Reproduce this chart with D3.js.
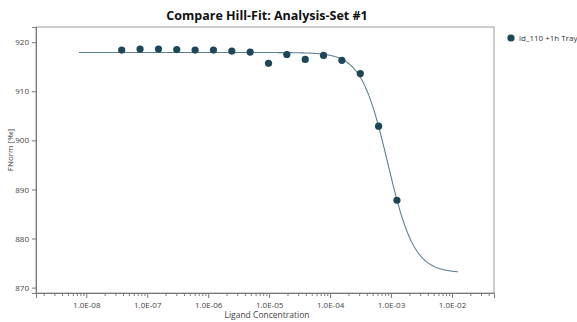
<!DOCTYPE html>
<html>
<head>
<meta charset="utf-8">
<script src="https://cdn.jsdelivr.net/npm/d3@7"></script>
<style>
  body { margin: 0; background: #fff; }
  text { font-family: "Open Sans", "Noto Sans", sans-serif; }
</style>
</head>
<body>
<svg width="577" height="322"></svg>
<script>
// концентрации лиганда (серия разведений 1:2)
const concentrations = [3.81e-8, 7.63e-8, 1.53e-7, 3.05e-7, 6.10e-7, 1.22e-6, 2.44e-6, 4.88e-6,
                        9.77e-6, 1.95e-5, 3.91e-5, 7.81e-5, 1.56e-4, 3.13e-4, 6.25e-4, 1.25e-3];
// измеренные FNorm
const fnorm = [918.4, 918.6, 918.6, 918.5, 918.4, 918.4, 918.2, 918.0,
               915.7, 917.5, 916.5, 917.3, 916.3, 913.6, 902.9, 887.8];
// параметры Hill-фита
const hillTop = 917.9, hillBottom = 873.0, hillEC50 = 8.8e-4, hillN = 2.0;
const fitRange = [7.6e-9, 1.25e-2];
const yTicks = [870, 880, 890, 900, 910, 920];
const xMajor = [1e-8, 1e-7, 1e-6, 1e-5, 1e-4, 1e-3, 1e-2];
const seriesName = "id_110 +1h Tray";

const svg = d3.select("svg");
const plotLeft = 36, plotRight = 494, plotTop = 27, plotBottom = 293;

const x = d3.scaleLog().domain([1.496e-9, 4.89e-2]).range([plotLeft, plotRight]);
const y = d3.scaleLinear().domain([868.9, 923.1]).range([plotBottom, plotTop]);

// рамка
svg.append("rect")
    .attr("x", plotLeft).attr("y", plotTop)
    .attr("width", plotRight - plotLeft).attr("height", plotBottom - plotTop)
    .attr("fill", "none").attr("stroke", "#9a9a9a").attr("stroke-width", 1);

// ось Y
svg.append("g")
    .attr("transform", `translate(${plotLeft},0)`)
    .call(d3.axisLeft(y).tickValues(yTicks).tickSize(4).tickPadding(3));

// ось X: мелкие деления
const minor = [];
for (let e = -9; e <= -2; e++) {
    for (let k = 2; k <= 9; k++) {
        const v = k * Math.pow(10, e);
        if (v > x.domain()[0] && v < x.domain()[1]) minor.push(v);
    }
}
svg.append("g")
    .attr("transform", `translate(0,${plotBottom})`)
    .call(d3.axisBottom(x).tickValues(minor).tickSize(3).tickFormat(""))
    .call(g => g.select(".domain").remove());
svg.append("g")
    .attr("transform", `translate(0,${plotBottom})`)
    .call(d3.axisBottom(x).tickValues(xMajor).tickSize(5).tickPadding(4)
        .tickFormat(d => "1.0E-" + String(Math.round(-Math.log10(d))).padStart(2, "0")));

svg.selectAll(".tick text").attr("font-size", 8).attr("fill", "#444")
    .attr("font-family", "'Open Sans', sans-serif");
svg.selectAll(".domain, .tick line").attr("stroke", "#7a7a7a");

// кривая фита
const fitData = d3.range(0, 401).map(i => {
    const lx = Math.log10(fitRange[0]) + (Math.log10(fitRange[1]) - Math.log10(fitRange[0])) * i / 400;
    const c = Math.pow(10, lx);
    return {c: c, v: hillBottom + (hillTop - hillBottom) / (1 + Math.pow(c / hillEC50, hillN))};
});
const line = d3.line().x(d => x(d.c)).y(d => y(d.v));
svg.append("path")
    .attr("d", line(fitData))
    .attr("fill", "none")
    .attr("stroke", "#5d8191")
    .attr("stroke-width", 1.1);

// точки
svg.append("g").selectAll("circle")
    .data(concentrations.map((c, i) => ({c: c, v: fnorm[i]})))
    .join("circle")
    .attr("cx", d => x(d.c)).attr("cy", d => y(d.v))
    .attr("r", 3.6)
    .attr("fill", "#1d4658");

// заголовок и подписи осей
svg.append("text")
    .attr("x", 267).attr("y", 20)
    .attr("text-anchor", "middle")
    .attr("font-size", 12.5).attr("font-weight", "bold").attr("fill", "#111")
    .text("Compare Hill-Fit: Analysis-Set #1");
svg.append("text")
    .attr("x", 267).attr("y", 318)
    .attr("text-anchor", "middle")
    .attr("font-size", 8.5).attr("fill", "#444")
    .text("Ligand Concentration");
svg.append("text")
    .attr("transform", "translate(13,150) rotate(-90)")
    .attr("text-anchor", "middle")
    .attr("font-size", 8).attr("fill", "#444")
    .text("FNorm [‰]");

// легенда
const legend = svg.append("g").attr("transform", "translate(511,38)");
legend.append("circle").attr("r", 3.6).attr("fill", "#1d4658");
legend.append("text").attr("x", 8).attr("y", 3)
    .attr("font-size", 8).attr("fill", "#333")
    .text(seriesName);
</script>
</body>
</html>
